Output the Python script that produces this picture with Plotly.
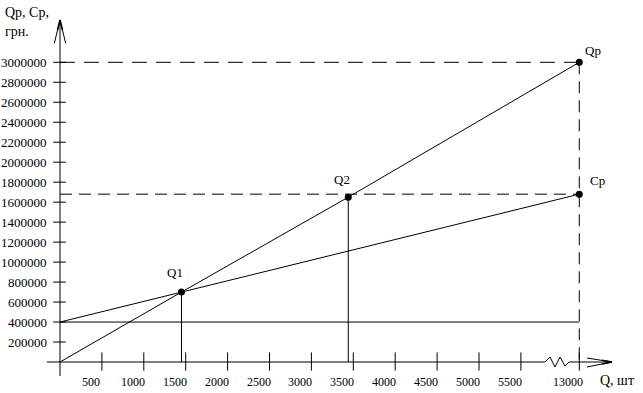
import plotly.graph_objects as go

# ---------------- data ----------------
x_tick_values = [500, 1000, 1500, 2000, 2500, 3000, 3500, 4000, 4500, 5000, 5500, 13000]
x_tick_labels = ["500", "1000", "1500", "2000", "2500", "3000", "3500", "4000", "4500", "5000", "5500", "13000"]
y_tick_values = [200000, 400000, 600000, 800000, 1000000, 1200000, 1400000, 1600000, 1800000,
                 2000000, 2200000, 2400000, 2600000, 2800000, 3000000]
y_tick_labels = [str(v) for v in y_tick_values]

q_break_start = 5500          # axis broken after 5500
q_max = 13000
q1, q2 = 1450, 3440           # break-even points
revenue_q = [0, q1, q2, q_max]
revenue_v = [0, 700000, 1650000, 3000000]        # Qp
cost_q = [0, q1, q_max]
cost_v = [400000, 700000, 1680000]               # Cp
fixed_cost = 400000
point_q = [q1, q2, q_max, q_max]
point_v = [700000, 1650000, 1680000, 3000000]
point_labels = ["Q1", "Q2", "Cp", "Qp"]

# ---------------- scale set-up (pixels) ----------------
W, H = 643, 393
X0_PX, XS = 60.0, 0.0838      # pixel of Q=0, pixels per unit
Y0_PX, YS = 362.0, 9.99e-5    # pixel of value 0, pixels per unit
BREAK_K = 0.0929              # compression of the axis after the break


def axpos(q):
    """display coordinate of Q on the broken axis"""
    return q if q <= q_break_start else q_break_start + (q - q_break_start) * BREAK_K


def px2x(px):
    return (px - X0_PX) / XS


def py2y(py):
    return (Y0_PX - py) / YS


BLACK = "black"
FONT = "Liberation Serif"
fig = go.Figure()


def line(xs, ys, width=1, dash=None):
    fig.add_trace(go.Scatter(x=xs, y=ys, mode="lines", hoverinfo="skip", showlegend=False,
                             cliponaxis=False,
                             line=dict(color=BLACK, width=width, dash=dash)))


# axes (drawn by hand: arrows, break)
line([px2x(60), px2x(60)], [py2y(376), py2y(20)])
line([px2x(47), px2x(545), px2x(550), px2x(555), px2x(560), px2x(565), px2x(569), px2x(612)],
     [0, 0, py2y(357), py2y(367), py2y(357), py2y(366), 0, 0])
# arrow heads
line([px2x(54.3), px2x(60), px2x(65.7)], [py2y(43.3), py2y(20), py2y(43.3)])
line([px2x(57.5), px2x(60), px2x(62.5)], [py2y(30), py2y(20), py2y(30)], width=1.5)
line([px2x(587), px2x(612), px2x(587)], [py2y(358), py2y(362), py2y(367)])
line([px2x(602), px2x(612), px2x(602)], [py2y(360.3), py2y(362), py2y(364)], width=1.5)

# ticks
fig.add_trace(go.Scatter(x=[axpos(q) for q in x_tick_values], y=[py2y(361.5)] * len(x_tick_values),
                         mode="markers", hoverinfo="skip", showlegend=False, cliponaxis=False,
                         marker=dict(symbol="line-ns", size=13, line=dict(color=BLACK, width=1))))
fig.add_trace(go.Scatter(x=[px2x(59.5)] * len(y_tick_values), y=y_tick_values,
                         mode="markers", hoverinfo="skip", showlegend=False, cliponaxis=False,
                         marker=dict(symbol="line-ew", size=9, line=dict(color=BLACK, width=1))))

# guide lines
line([0, axpos(q_max)], [revenue_v[-1], revenue_v[-1]], dash="15px,9px")
line([0, axpos(q_max)], [cost_v[-1], cost_v[-1]], dash="12px,7px")
line([axpos(q_max), axpos(q_max)], [revenue_v[-1], 0], dash="12px,7px")
line([axpos(q1), axpos(q1)], [point_v[0], 0])
line([axpos(q2), axpos(q2)], [point_v[1], 0])

# main lines
line([axpos(q) for q in revenue_q], revenue_v)
line([axpos(q) for q in cost_q], cost_v)
line([0, axpos(q_max)], [fixed_cost, fixed_cost])

# points
fig.add_trace(go.Scatter(x=[axpos(q) for q in point_q], y=point_v, mode="markers",
                         hoverinfo="skip", showlegend=False, cliponaxis=False,
                         marker=dict(color=BLACK, size=7)))

annotations = []
label_shift = {"Q1": (-7, 20), "Q2": (-6, 18), "Cp": (18, 14), "Qp": (14, 12)}
for q, v, t in zip(point_q, point_v, point_labels):
    dx, dy = label_shift[t]
    annotations.append(dict(x=axpos(q), y=v, text=t, showarrow=False, xshift=dx, yshift=dy,
                            font=dict(family=FONT, size=13, color=BLACK)))
for q, t in zip(x_tick_values, x_tick_labels):
    annotations.append(dict(x=axpos(q), y=py2y(381.5), text=t, showarrow=False, xshift=-11,
                            font=dict(family=FONT, size=12, color=BLACK)))
for v, t in zip(y_tick_values, y_tick_labels):
    annotations.append(dict(x=px2x(49), y=v, text=t, showarrow=False, xanchor="right",
                            font=dict(family=FONT, size=13, color=BLACK)))
annotations.append(dict(x=px2x(3), y=py2y(12), text="Qp, Cp,", showarrow=False, xanchor="left",
                        font=dict(family=FONT, size=14, color=BLACK)))
annotations.append(dict(x=px2x(3), y=py2y(31), text="грн.", showarrow=False, xanchor="left",
                        font=dict(family=FONT, size=14, color=BLACK)))
annotations.append(dict(x=px2x(598), y=py2y(380), text="Q, шт", showarrow=False, xanchor="left",
                        font=dict(family=FONT, size=14, color=BLACK)))

fig.update_layout(
    width=W, height=H, autosize=False,
    margin=dict(l=0, r=0, t=0, b=0, pad=0),
    paper_bgcolor="white", plot_bgcolor="white",
    xaxis=dict(range=[px2x(0), px2x(W)], visible=False, fixedrange=True),
    yaxis=dict(range=[py2y(H), py2y(0)], visible=False, fixedrange=True),
    annotations=annotations,
    showlegend=False,
)

fig.write_html("out.html", config={"displayModeBar": False},
               post_script="document.body.style.margin='0';")
